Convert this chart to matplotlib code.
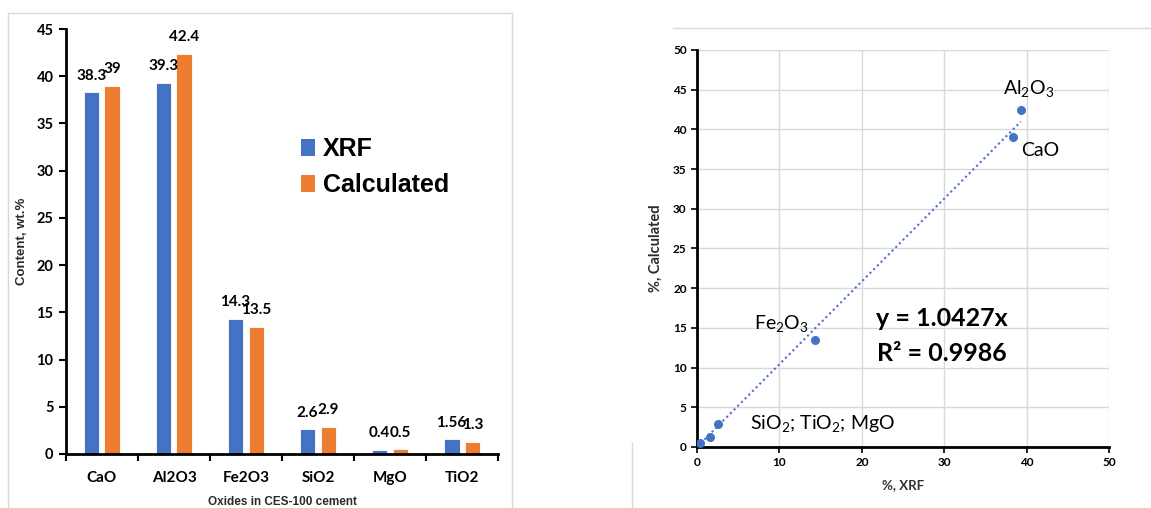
import matplotlib
matplotlib.use("Agg")
import matplotlib.pyplot as plt
import numpy as np
from matplotlib.lines import Line2D
from matplotlib.patches import Patch

plt.rcParams["font.family"] = ["Lato", "DejaVu Sans"]
plt.rcParams["mathtext.fontset"] = "custom"
plt.rcParams["mathtext.rm"] = "Lato"
plt.rcParams["mathtext.it"] = "Lato:italic"
plt.rcParams["mathtext.bf"] = "Lato:bold"

oxides = ["CaO", "Al2O3", "Fe2O3", "SiO2", "MgO", "TiO2"]
xrf = [38.3, 39.3, 14.3, 2.6, 0.4, 1.56]
calculated = [39, 42.4, 13.5, 2.9, 0.5, 1.3]
xrf_labels = ["38.3", "39.3", "14.3", "2.6", "0.4", "1.56"]
calc_labels = ["39", "42.4", "13.5", "2.9", "0.5", "1.3"]
slope = 1.0427
r2 = 0.9986

BLUE = "#4472C4"
ORANGE = "#ED7D31"

fig = plt.figure(figsize=(11.51, 5.08), dpi=100)

# ---- left: bar chart
ax = fig.add_axes([0.0573, 0.1063, 0.3754, 0.8366])
x = np.arange(len(oxides))
w = 0.22
off = 0.145
ax.bar(x - off, xrf, width=w, color=BLUE, edgecolor="white", linewidth=0.6)
ax.bar(x + off, calculated, width=w, color=ORANGE, edgecolor="white", linewidth=0.6)
for xi, v, lab in zip(x, xrf, xrf_labels):
    ax.annotate(lab, (xi - off, v), xytext=(0, 7), textcoords="offset points",
                ha="center", va="bottom", fontsize=11, fontweight="bold")
for xi, v, lab in zip(x, calculated, calc_labels):
    ax.annotate(lab, (xi + off, v), xytext=(0, 7), textcoords="offset points",
                ha="center", va="bottom", fontsize=11, fontweight="bold")

ax.set_xlim(-0.5, len(oxides) - 0.5)
ax.set_ylim(0, 45)
ax.set_yticks(np.arange(0, 46, 5))
ax.set_xticks(x)
ax.set_xticklabels(oxides, fontsize=11, fontweight="bold")
ax.set_xticks(np.arange(-0.5, len(oxides), 1), minor=True)
ax.tick_params(axis="x", which="major", length=0, pad=12)
ax.tick_params(axis="x", which="minor", length=5, width=1.5, direction="out")
ax.tick_params(axis="y", length=5, width=1.5, labelsize=10.5, pad=4)
for t in ax.get_yticklabels():
    t.set_fontweight("bold")
for s in ("top", "right"):
    ax.spines[s].set_visible(False)
ax.spines["left"].set_linewidth(2)
ax.spines["bottom"].set_linewidth(2)
ax.set_ylabel("Content, wt.%", fontsize=9.5, fontweight="bold",
              family=["Liberation Sans"], labelpad=6, color="#2b2b2b")
ax.set_xlabel("Oxides in CES-100 cement", fontsize=8.5, fontweight="bold",
              family=["Liberation Sans"], labelpad=8, color="#2b2b2b")

handles = [Patch(facecolor=BLUE, label="XRF"), Patch(facecolor=ORANGE, label="Calculated")]
ax.legend(handles=handles, loc="upper left", bbox_to_anchor=(301 / 1151, 1 - 137 / 508),
          bbox_transform=fig.transFigure, frameon=False, borderpad=0, borderaxespad=0,
          handlelength=0.56, handleheight=0.66, handletextpad=0.3, labelspacing=0.5,
          prop={"family": "Liberation Sans", "weight": "bold", "size": 18})

# ---- right: scatter with trendline
ax2 = fig.add_axes([0.6056, 0.1201, 0.3579, 0.7815])
ax2.set_xlim(0, 50)
ax2.set_ylim(0, 50)
ax2.set_xticks(np.arange(0, 51, 10))
ax2.set_yticks(np.arange(0, 51, 5))
ax2.grid(True, color="#d9d9d9", linewidth=1)
ax2.set_axisbelow(True)
tx = np.array([0, max(xrf)])
ax2.plot(tx, slope * tx, linestyle=(0, (1, 1.5)), color=BLUE, linewidth=1.5, zorder=2)
ax2.scatter(xrf, calculated, s=30, color=BLUE, zorder=3)
for s in ("top", "right"):
    ax2.spines[s].set_visible(False)
ax2.spines["left"].set_linewidth(2)
ax2.spines["bottom"].set_linewidth(2)
ax2.tick_params(length=4, width=1.2, labelsize=8.5)
for t in ax2.get_xticklabels() + ax2.get_yticklabels():
    t.set_fontweight("bold")
ax2.set_xlabel("%, XRF", fontsize=9.5, fontweight="bold", color="#333333", labelpad=8)
ax2.set_ylabel("%, Calculated", fontsize=10.5, fontweight="bold", color="#2b2b2b", labelpad=7)

ax2.text(40.3, 45.2, r"Al$_\mathregular{2}$O$_\mathregular{3}$", ha="center", va="center", fontsize=14)
ax2.text(41.6, 37.3, "CaO", ha="center", va="center", fontsize=14)
ax2.text(10.3, 15.6, r"Fe$_\mathregular{2}$O$_\mathregular{3}$", ha="center", va="center", fontsize=14)
ax2.text(15.2, 3.0, r"SiO$_\mathregular{2}$; TiO$_\mathregular{2}$; MgO", ha="center", va="center", fontsize=14)
ax2.text(29.7, 16.2, f"y = {slope}x", ha="center", va="center", fontsize=18, fontweight="bold")
ax2.text(29.7, 11.8, f"R² = {r2}", ha="center", va="center", fontsize=18, fontweight="bold")

# ---- chart-area frames as in the source screenshot
frame = "#d9d9d9"
fig.add_artist(Line2D([8 / 1151, 512 / 1151], [1 - 13 / 508, 1 - 13 / 508], color=frame, lw=1))
fig.add_artist(Line2D([8 / 1151, 8 / 1151], [0, 1 - 13 / 508], color=frame, lw=1))
fig.add_artist(Line2D([512 / 1151, 512 / 1151], [0, 1 - 13 / 508], color=frame, lw=1))
fig.add_artist(Line2D([673 / 1151, 1], [1 - 28 / 508, 1 - 28 / 508], color=frame, lw=1))
fig.add_artist(Line2D([632 / 1151, 632 / 1151], [0, 1 - 443 / 508], color=frame, lw=1))

fig.savefig("out.png", dpi=100)
